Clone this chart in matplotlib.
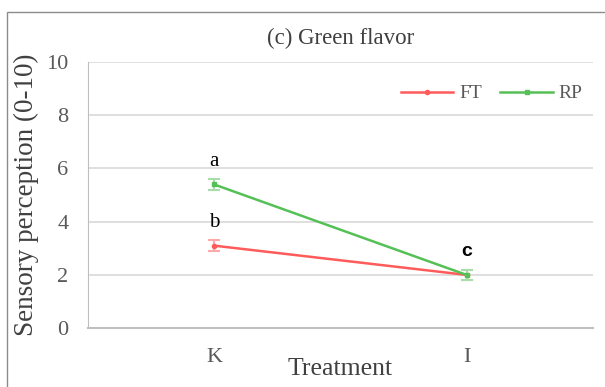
import matplotlib
matplotlib.use("Agg")
import matplotlib.pyplot as plt
from matplotlib.lines import Line2D
from matplotlib.patches import Rectangle

# ---------------------------------------------------------------------------
# Data
# ---------------------------------------------------------------------------
treatments = ["K", "I"]
ft_mean = [3.1, 2.0]
ft_err = [0.2, 0.2]
rp_mean = [5.4, 2.0]
rp_err = [0.2, 0.2]
letters = ["a", "b", "c"]
letter_pos = [(0, 5.9), (0, 3.6), (1, 2.55)]
y_ticks = [0, 2, 4, 6, 8, 10]

SERIF = "Liberation Serif"
GREY_TXT = "#595959"
FT_COL, FT_ERR = "#ff5b5b", "#ffaaaa"
RP_COL, RP_ERR = "#55c055", "#a8dca8"

fig = plt.figure(figsize=(6.05, 3.87), dpi=100)
ax = fig.add_axes([0.145, 0.152, 0.835, 0.688])

# outer chart border
fig.patches.append(Rectangle((7 / 605, -0.01), 1.1, 1 - 12 / 387 + 0.01,
                             transform=fig.transFigure, fill=False,
                             edgecolor="#8c8c8c", linewidth=1.0))

x = range(len(treatments))
ax.errorbar(x, ft_mean, yerr=ft_err, color=FT_COL, ecolor=FT_ERR,
            elinewidth=1.5, capsize=4, capthick=1.5, marker="o", markersize=3,
            linewidth=1.8, zorder=3)
ax.errorbar(x, rp_mean, yerr=rp_err, color=RP_COL, ecolor=RP_ERR,
            elinewidth=1.5, capsize=4, capthick=1.5, marker="s", markersize=3,
            linewidth=1.8, zorder=4)

for (lx, ly), t in zip(letter_pos, letters):
    if t == "c":
        ax.text(lx, ly, t, ha="center", va="bottom", fontsize=14,
                fontweight="bold", family="Liberation Sans")
    else:
        ax.text(lx, ly, t, ha="center", va="bottom", fontsize=15, family=SERIF)

ax.set_xlim(-0.5, 1.5)
ax.set_ylim(0, 10)
ax.set_yticks(y_ticks)
ax.set_xticks(list(x))
ax.set_xticklabels(treatments)
ax.yaxis.grid(True, color="#d9d9d9", linewidth=1.2)
ax.set_axisbelow(True)
for s in ["top", "right"]:
    ax.spines[s].set_visible(False)
ax.spines["left"].set_color("#bfbfbf")
ax.spines["bottom"].set_color("#bfbfbf")
ax.spines["bottom"].set_linewidth(1.5)
ax.tick_params(axis="y", length=0, labelsize=16, labelcolor=GREY_TXT, pad=14)
ax.tick_params(axis="x", length=0, labelsize=16, labelcolor=GREY_TXT, pad=14)
for lab in ax.get_xticklabels() + ax.get_yticklabels():
    lab.set_family(SERIF)

ax.set_title("(c) Green flavor", fontsize=16.5, family=SERIF, color="#404040", pad=13)
ax.set_ylabel("Sensory perception (0-10)", fontsize=19.5, family=SERIF,
              color="#404040", labelpad=5)
ax.set_xlabel("Treatment", fontsize=18.5, family=SERIF, color="#404040", labelpad=-6)

handles = [Line2D([], [], color=FT_COL, marker="o", markersize=3, linewidth=1.8),
           Line2D([], [], color=RP_COL, marker="s", markersize=3, linewidth=1.8)]
leg = ax.legend(handles, ["FT", "RP"], loc="upper right",
                bbox_to_anchor=(1.014, 0.98), ncol=2, frameon=False,
                prop={"family": SERIF, "size": 14}, handlelength=2.7,
                columnspacing=0.95, handletextpad=0.3)
for t in leg.get_texts():
    t.set_color(GREY_TXT)

fig.savefig("out.png", dpi=100)
